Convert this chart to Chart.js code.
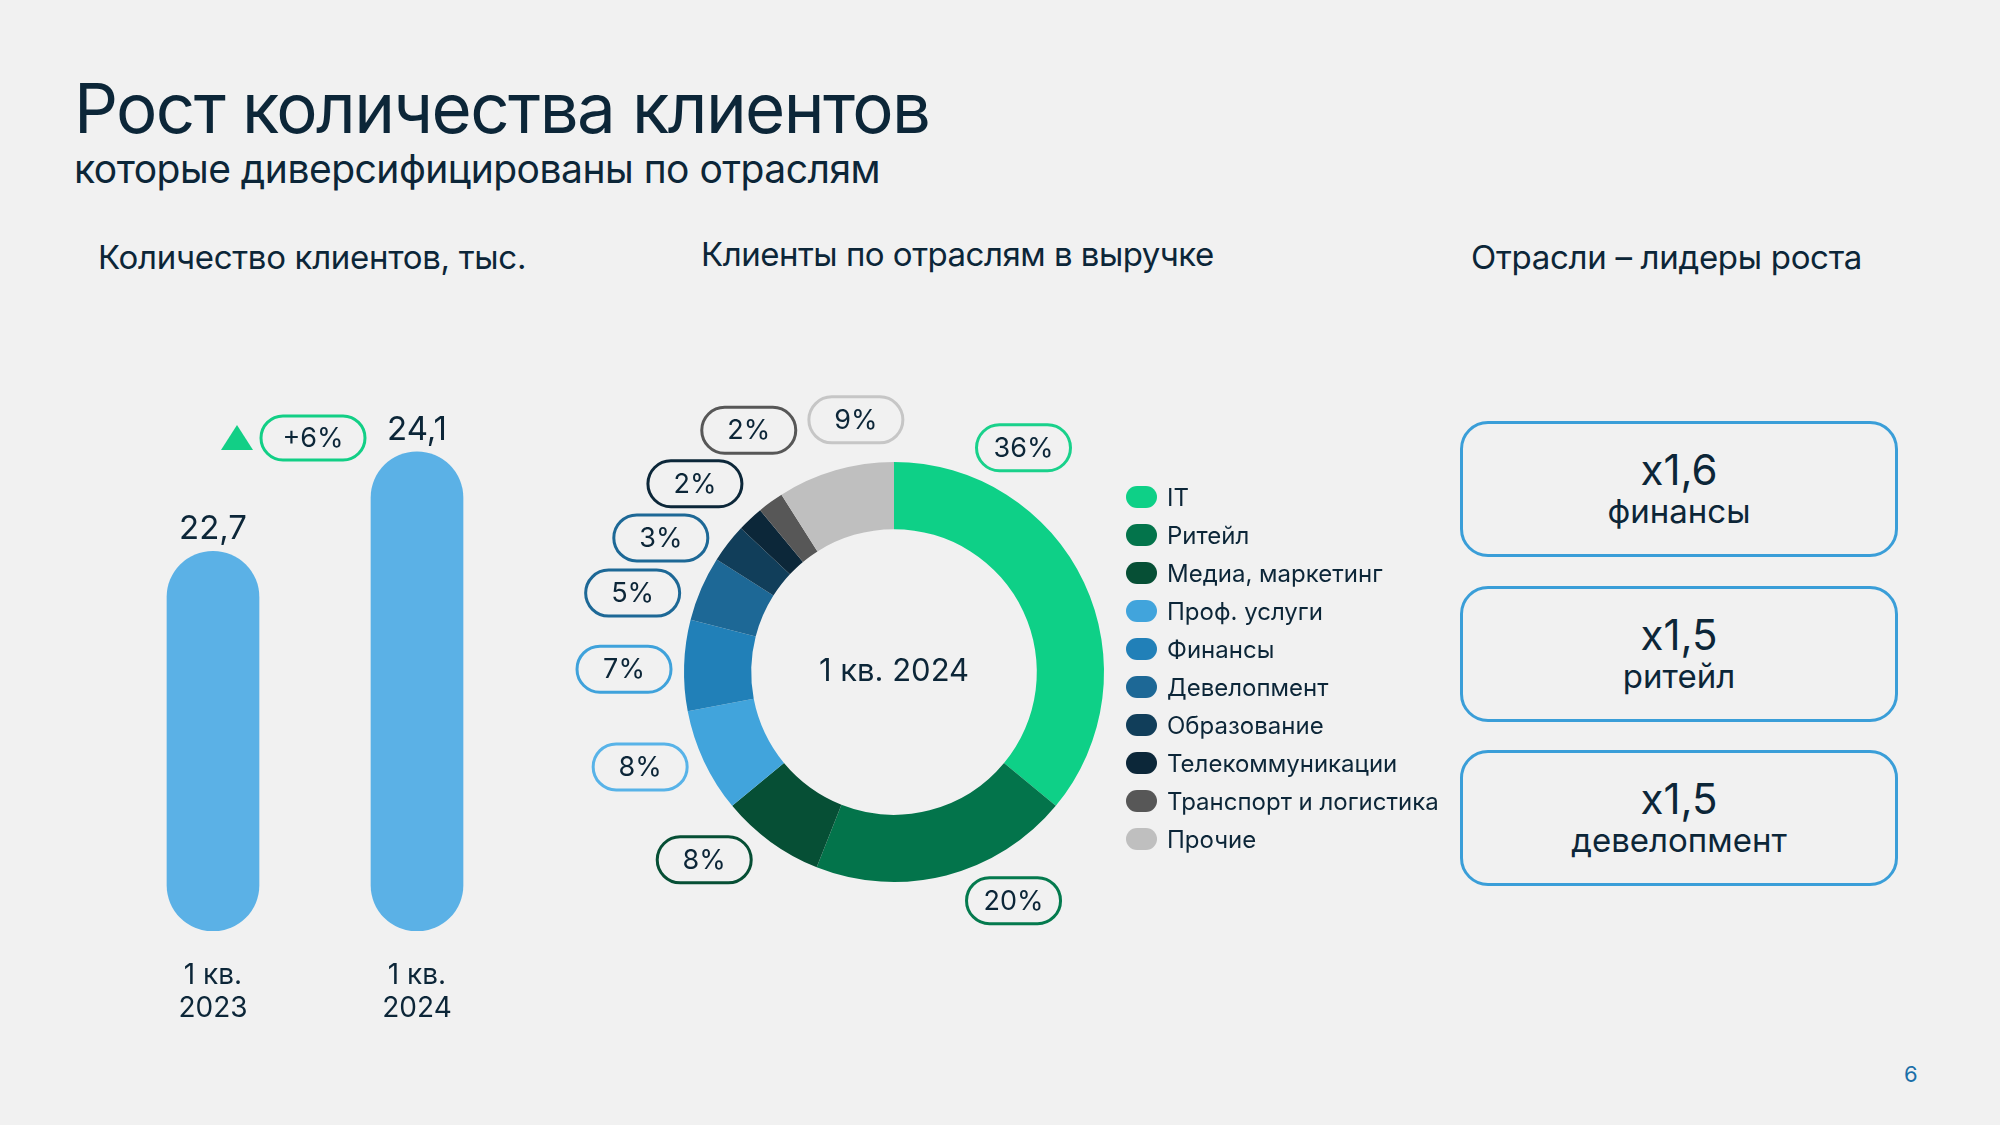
<!DOCTYPE html>
<html lang="ru">
<head>
<meta charset="utf-8">
<title>Рост количества клиентов</title>
<script src="https://cdn.jsdelivr.net/npm/chart.js@4.4.1/dist/chart.umd.min.js"></script>
<style>
  html, body { margin: 0; padding: 0; }
  body {
    width: 2000px; height: 1125px; position: relative; overflow: hidden;
    background: #f1f1f1; color: #0c2638;
    font-family: Inter, "Noto Sans", sans-serif;
  }
  .t { position: absolute; margin: 0; font-weight: 400; line-height: 1; white-space: nowrap; }
  #title { left: 74px; top: 74px; font-size: 69px; letter-spacing: -1.6px; }
  #subtitle { left: 74px; top: 149px; font-size: 39px; letter-spacing: -0.5px; }
  .head { font-size: 33px; top: 241px; letter-spacing: -0.3px; }
  canvas { position: absolute; }
  #barChart { left: 111px; top: 308px; }
  #donutChart { left: 544px; top: 322px; }
  #legend { position: absolute; left: 1126px; top: 478px; }
  .item { height: 38px; display: flex; align-items: center; font-size: 24px; }
  .sw { width: 31px; height: 22px; border-radius: 11px; margin-right: 10px; flex: none; }
  .box {
    position: absolute; left: 1460px; width: 432px; height: 130px;
    border: 3px solid #3a9ed8; border-radius: 28px; text-align: center;
  }
  .box .mul { position: absolute; left: 0; right: 0; top: 25px; font-size: 42px; line-height: 1; }
  .box .sec { position: absolute; left: 0; right: 0; top: 71px; font-size: 33px; line-height: 1; }
  #page { left: 1904px; top: 1063px; font-size: 22px; color: #1b6fa8; }
</style>
</head>
<body>
<h1 class="t" id="title">Рост количества клиентов</h1>
<div class="t" id="subtitle">которые диверсифицированы по отраслям</div>
<div class="t head" style="left:98px">Количество клиентов, тыс.</div>
<div class="t head" style="left:701px; top:238px; letter-spacing:-0.5px">Клиенты по отраслям в выручке</div>
<div class="t head" style="left:1471px">Отрасли – лидеры роста</div>

<canvas id="barChart" width="408" height="723"></canvas>
<canvas id="donutChart" width="700" height="700"></canvas>
<div id="legend"></div>
<div id="boxes"></div>
<div class="t" id="page">6</div>

<script>
// --- data ---
const barCategories = [['1 кв.', '2023'], ['1 кв.', '2024']];
const barValues = [22.7, 24.1];

const sectorLabels = ['IT', 'Ритейл', 'Медиа, маркетинг', 'Проф. услуги', 'Финансы',
  'Девелопмент', 'Образование', 'Телекоммуникации', 'Транспорт и логистика', 'Прочие'];
const sectorShares = [36, 20, 8, 8, 7, 5, 3, 2, 2, 9];
const donutCenterText = '1 кв. 2024';

const leaderMultipliers = ['x1,6', 'x1,5', 'x1,5'];
const leaderSectors = ['финансы', 'ритейл', 'девелопмент'];

// axis range of the bar panel (it does not start at zero)
const Y_MIN = 17.35;
const Y_MAX = 25;

// --- styles ---
const TEXT = '#0c2638';
const GREEN = '#12cf86';
const BAR_COLOR = '#5bb1e6';
const FONT = 'Inter, "Noto Sans", sans-serif';
const sectorColors = ['#0ed087', '#03744b', '#064f35', '#41a4dc', '#2180b8',
  '#1d6896', '#113e5a', '#0c2739', '#575757', '#bfbfbf'];
const pillBorders = ['#19d18b', '#047a4e', '#064f35', '#58b3e8', '#3fa2db',
  '#1d6896', '#1d6896', '#0c2739', '#575757', '#c6c6c6'];
// label placement around the ring: angle nudge (deg) and distance beyond outer edge (px)
const pillNudge = [-34.8, -13.2, 9.3, 4.7, -1.2, -6.6, -7.9, -3.4, 5, 7.6];
const pillGap = [49, 48, 57, 61, 60, 63, 59, 64, 72, 45];

const fmt = v => v.toFixed(1).replace('.', ',');

function pill(ctx, cx, cy, w, h, color, text, size) {
  const r = h / 2;
  ctx.save();
  ctx.beginPath();
  ctx.moveTo(cx - w / 2 + r, cy - r);
  ctx.lineTo(cx + w / 2 - r, cy - r);
  ctx.arc(cx + w / 2 - r, cy, r, -Math.PI / 2, Math.PI / 2);
  ctx.lineTo(cx - w / 2 + r, cy + r);
  ctx.arc(cx - w / 2 + r, cy, r, Math.PI / 2, Math.PI * 1.5);
  ctx.closePath();
  ctx.lineWidth = 3;
  ctx.strokeStyle = color;
  ctx.stroke();
  ctx.fillStyle = TEXT;
  ctx.font = size + 'px ' + FONT;
  ctx.textAlign = 'center';
  ctx.textBaseline = 'middle';
  ctx.fillText(text, cx, cy + 1);
  ctx.restore();
}

// bar chart labels, growth badge
const barLabels = {
  id: 'barLabels',
  afterDatasetsDraw(chart) {
    const ctx = chart.ctx;
    const bars = chart.getDatasetMeta(0).data;
    const bottom = chart.chartArea.bottom;
    ctx.save();
    ctx.fillStyle = TEXT;
    ctx.textAlign = 'center';
    ctx.textBaseline = 'middle';
    bars.forEach((b, i) => {
      ctx.font = '33px ' + FONT;
      ctx.fillText(fmt(barValues[i]), b.x, b.y - 22);
      ctx.font = '28px ' + FONT;
      ctx.fillText(barCategories[i][0], b.x, bottom + 45);
      ctx.fillText(barCategories[i][1], b.x, bottom + 78);
    });
    ctx.restore();

    const growth = Math.round((barValues[1] / barValues[0] - 1) * 100);
    const midX = (bars[0].x + bars[1].x) / 2;
    const y = bars[1].y - 14;
    pill(ctx, midX - 2, y, 104, 44, GREEN, '+' + growth + '%', 27);
    const tx = midX - 78;
    ctx.save();
    ctx.beginPath();
    ctx.moveTo(tx, y - 13);
    ctx.lineTo(tx + 16, y + 12);
    ctx.lineTo(tx - 16, y + 12);
    ctx.closePath();
    ctx.fillStyle = GREEN;
    ctx.fill();
    ctx.restore();
  }
};

new Chart(document.getElementById('barChart'), {
  type: 'bar',
  data: {
    labels: barCategories,
    datasets: [{
      data: barValues,
      base: Y_MIN,
      backgroundColor: BAR_COLOR,
      barThickness: 92,
      borderRadius: 46,
      borderSkipped: false
    }]
  },
  options: {
    responsive: false,
    animation: false,
    layout: { padding: { top: 80, bottom: 100, left: 0, right: 0 } },
    scales: {
      x: { display: false },
      y: { display: false, beginAtZero: false, min: Y_MIN, max: Y_MAX }
    },
    plugins: { legend: { display: false }, tooltip: { enabled: false } }
  },
  plugins: [barLabels]
});

// donut labels and centre text
const donutLabels = {
  id: 'donutLabels',
  afterDatasetsDraw(chart) {
    const ctx = chart.ctx;
    const arcs = chart.getDatasetMeta(0).data;
    arcs.forEach((a, i) => {
      const p = a.getProps(['x', 'y', 'startAngle', 'endAngle', 'outerRadius']);
      const ang = (p.startAngle + p.endAngle) / 2 + pillNudge[i] * Math.PI / 180;
      const r = p.outerRadius + pillGap[i];
      pill(ctx, p.x + r * Math.cos(ang), p.y + r * Math.sin(ang), 94, 46,
        pillBorders[i], sectorShares[i] + '%', 27);
    });
    const c = arcs[0];
    ctx.save();
    ctx.fillStyle = TEXT;
    ctx.font = '31px ' + FONT;
    ctx.textAlign = 'center';
    ctx.textBaseline = 'middle';
    ctx.fillText(donutCenterText, c.x, c.y);
    ctx.restore();
  }
};

new Chart(document.getElementById('donutChart'), {
  type: 'doughnut',
  data: {
    labels: sectorLabels,
    datasets: [{
      data: sectorShares,
      backgroundColor: sectorColors,
      borderWidth: 0
    }]
  },
  options: {
    responsive: false,
    animation: false,
    cutout: '68%',
    layout: { padding: 140 },
    plugins: { legend: { display: false }, tooltip: { enabled: false } }
  },
  plugins: [donutLabels]
});

// legend
const legend = document.getElementById('legend');
sectorLabels.forEach((name, i) => {
  const row = document.createElement('div');
  row.className = 'item';
  row.innerHTML = '<span class="sw" style="background:' + sectorColors[i] + '"></span>' + name;
  legend.appendChild(row);
});

// leader boxes
const boxTops = [421, 586, 750];
const boxes = document.getElementById('boxes');
leaderMultipliers.forEach((m, i) => {
  const b = document.createElement('div');
  b.className = 'box';
  b.style.top = boxTops[i] + 'px';
  b.innerHTML = '<div class="mul">' + m + '</div><div class="sec">' + leaderSectors[i] + '</div>';
  boxes.appendChild(b);
});
</script>
</body>
</html>
